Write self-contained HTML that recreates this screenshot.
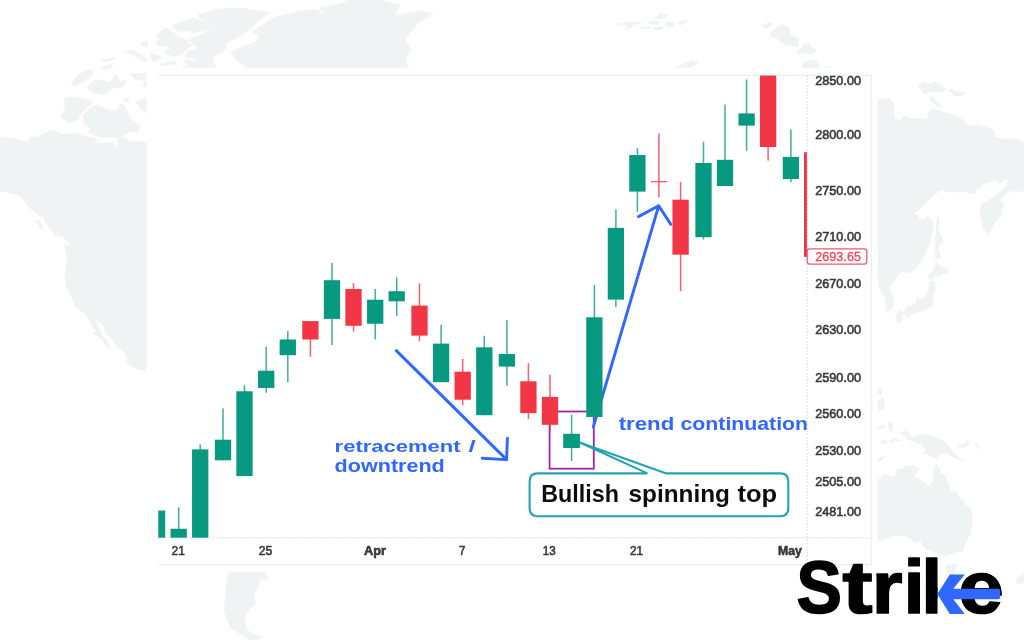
<!DOCTYPE html>
<html lang="en">
<head>
<meta charset="utf-8">
<title>Bullish spinning top</title>
<style>
html,body{margin:0;padding:0;background:#fff;}
body{width:1024px;height:640px;overflow:hidden;font-family:"Liberation Sans",sans-serif;}
svg{display:block;}
.ax text{font-family:"Liberation Sans",sans-serif;font-size:13.6px;fill:#36373c;stroke:#36373c;stroke-width:0.6px;}
.note{font-family:"Liberation Sans",sans-serif;font-weight:bold;fill:#2f67ff;}
.call{font-family:"Liberation Sans",sans-serif;font-weight:bold;fill:#0c0c0c;}
.logo{font-family:"Liberation Sans",sans-serif;font-weight:bold;fill:#000;stroke:#000;stroke-linejoin:round;}
</style>
</head>
<body>
<svg width="1024" height="640" viewBox="0 0 1024 640">
<rect width="1024" height="640" fill="#ffffff"/>
<g fill="#eff3f4" stroke="#eff3f4" stroke-width="0.7" stroke-linejoin="round">
<!-- North America mainland -->
<path d="M0 137.8L15.6 138.6L26.5 142L31 137L37.5 137L51.5 130.2L54.7 130.4L61 134.7L75 133L87.5 137L97 139.4L93.8 143.3L112.5 142.5L118.8 150.3L117 139.4L123.4 137L129.7 141L147 142.5V371.2L138.4 369.2L130.8 366.2L127.1 361.7V357.2L124.8 352.7L115.8 344.4L111.3 337.7L105.3 333.2L103.8 325.6L95.5 319.6L97.8 325.6L100.8 333.2L105.3 339.2L109.8 345.9L109 348.9L105.3 345.2L102.3 339.2L93.2 333.2L96.3 331.6L91.7 325.6L87.2 315.9L81.2 310.6L75.2 307.6L72.2 297L66.2 286.5L64.7 276L66.9 264.2V253.7L63.9 244.7L70.7 245.4L64.7 237.9L55.6 235.6L51.1 229.6L45.1 222.1L42.9 216.1H39.1L36.1 212.3L30 208.6L25.6 202.6L19.6 195.8L7.5 192L0 191.3Z"/>
<path d="M36.1 219.9L39.9 220.6L42.9 228.9L39.1 226.6Z"/>
<!-- Arctic islands -->
<path d="M64 98.6L73.4 97L84.4 98.6L93.8 102.5L87.5 107.2L81.3 112.7L78 119.7L68.8 122.8L61 117.3L65.6 107.2Z"/>
<path d="M82.8 116.6L89 108.8L96.9 104.8L106.3 109.5L115.6 111L120.3 104L125 105.6L129.7 118L140.6 126.7L137.5 131.4L128 132.2L120.3 137.6L100 136.9L87.5 132.2L90.6 128.3L84.4 123.6Z"/>
<path d="M71 83.8L78 75L89 69.7L93.8 71.3L89 79L78 84.5L73.4 86Z"/>
<path d="M87.5 86.9L93.8 80.6L103 79.8L109.4 83L115.6 74.4L120.3 81.4L126.6 80.6L123.4 86.9L112.5 88.4L103 94.7L95.3 93L89 90Z"/>
<path d="M101.6 67.3L112.5 63.4L111.7 67.3L106.3 69.7L102.3 69Z"/>
<path d="M101.6 60.3L114 57.2V59.5L103 62Z"/>
<path d="M125 51.7L132.8 49.4L143.8 57.2L147.6 61L140.6 59.5L132.8 54.8Z"/>
<path d="M140 42.9L146.8 41.4L148.3 46.6L143 45.9Z"/>
<path d="M129.7 74.4L134.4 73.6H147V86.9L143 86L145.3 80.6L136 79.8Z"/>
<path d="M136 102.5L147 97V113.4L140.6 108.8Z"/>
<path d="M123.4 98.6H128L129 102.5L125 101.7Z"/>
<path d="M149.8 52.6L161.8 57.2L155 61.7L152 60.2Z"/>
<path d="M140 54.1L147.5 60.2L144.5 61.7L140 58.7Z"/>
<path d="M159.6 63.9L176.1 61.4V63.9L164.1 65.4Z"/>
<!-- Devon -->
<path d="M155.8 36.1L164.1 27.8L169.3 29.3L177.6 36.1L186.6 40.6L191.9 45.9L186.6 48.9L182.1 54.9L171.6 56.4L164.1 51.1L172.3 47.4L158 45.1L155 41.4L161.8 39.4Z"/>
<!-- Axel Heiberg -->
<path d="M172.3 24.8L192.6 18L200.2 20.3L207.7 22.6L213.7 27.1L203.2 30.8L192.6 33.1L189.6 30.8L179.1 31.6L173.1 27.8Z"/>
<!-- Ellesmere -->
<path d="M198.7 14.3L218.2 9L242.3 8.3L269.3 12.8L260.3 19.6L248.3 20.3L258.8 21L248.3 30L239.3 36.1L225.7 43.6L226.5 48.1L221.2 53.4L214.4 55.6L212.9 63.2L216.7 67.5H182.1L186.6 64.7L183.6 60.2L192.6 60.9L198.7 59.4L191.1 57.9L185.1 56.4L188.1 51.1L198.7 48.1L188.1 39.9L200.2 35.3L215.2 27.1L206.2 21L198.7 17.3Z"/>
<!-- Greenland -->
<path d="M231 51.9L239.3 48.1L255.8 42.1L258.8 36.1L252 31.6L275.4 16.5L294 12.8L300 11L316 9.4L325 15.6L320 8L344 3L347 0H378L400 4.7L395 15.6L422 11L433 14L419 22L405 39L411 50L405 58L408 67.5H246.8L236.3 60.2Z"/>
<!-- Svalbard etc -->
<path d="M615.6 24.2L631.3 21.9L642.2 23.1L632.8 25L631.3 28.1L625 28.9L628 25.8Z"/>
<path d="M639 27.3L648.4 26.6L649.2 28.1L640.6 28.4Z"/>
<path d="M648.4 21.9L659.4 21.1L657.8 24.2H651.6Z"/>
<path d="M654.7 18L659.4 14H668L665.6 17.2L657.8 19.5Z"/>
<path d="M653.1 27.8L662.5 26.6L663.3 28.9L656.3 30Z"/>
<path d="M664.8 23.4L671.9 21.1L675 24.2L670.3 27.8L665.6 25.8Z"/>
<path d="M677.3 23.4L686 18.8L687.8 21.9L679.7 25Z"/>
<path d="M675.8 68L692.2 60.2L697.7 62.5L693.8 66.4L687.5 68Z"/>
<path d="M760.3 25L769.7 22.7L773.6 24.2L765 28.9Z"/>
<path d="M769.7 33.6L782.2 24.2L790 28.9V34.4L798.6 39L797.8 46.1L786.9 45.3L780.6 42.2L777.5 38.3L769.7 36.7Z"/>
<path d="M797 53.1L804 44.5L808.8 43.8L816.6 50.8L810.3 53.9L802.5 53.1L799.4 54.7Z"/>
<path d="M802.5 68L804 62.5L808.8 60.2L815 60.9L819.7 65.6L818.1 68Z"/>
<path d="M824.4 67.2H832.2V68H824.4Z"/>
<!-- Asia -->
<path d="M877.7 99.4L889.6 98.8L894.8 105.1L893.3 112.6L894.8 118.7L899.3 121.4L904.6 115.6L909.1 118.4L915.1 117.9L924.1 119.4L929.4 117.9L927.9 112.6L931.7 109.3L940.7 111.1L954.2 115.3L963.2 120.2L967.8 126.2L978.3 125.4L990.3 128.4L994.1 131.4V136.7L1002.4 139L1018.9 139.7L1024 143.5V190.6L1016 191.9L1013.5 190L1006 193.8L999.8 200L1003.5 203.8L1001 215L994.8 222.5L991 230L988 233.4L983.5 230L982.3 225L979.8 212.5L981 204.4L993.5 197.5L1006 186.3L1009.8 179.4H1004.8L998.5 184.4L997.3 180L983.5 183.8L976 190V193.8L968.5 192.5L959.8 190.6L954.8 192.5L939.8 190L928.8 200L921.3 207.5L913.1 213.8L917.5 215.6L919.4 219.4L923.8 220.6L926.9 216.3L932.5 221.3L933.1 226.3L931.3 237.5L927.5 248.8L922.5 258.8L916.3 267.5L908.8 273.1L905 272.5L903.1 271L896.9 276.3L893.8 282.5L888.8 288.1L893.1 297.5L893.8 303.8L891.3 310L886.3 311.3L885.6 302.5L884.4 300L886.3 296.3L881.9 293.8L880.6 288.1L877.7 286.9Z"/>
<path d="M918.1 86.3L922.6 81.4L930.2 84.1L934.7 81.8L946 88.6L942.2 92.3H937.7L933.2 90.8L924.1 93.8Z"/>
<path d="M948.2 90.1L952 89.3L957.2 91.9L965.5 92.3L963.2 95.3L955.7 96.1Z"/>
<path d="M929.4 97.6L931.7 96.5L940.7 105.1L939.2 106.9L931.7 102.1Z"/>
<!-- Sakhalin -->
<path d="M937.5 216.3L939.4 220V225L938.1 230L941.3 236.3L943.8 243.8L940 243.1L938.1 248.8L940.6 257.5L935 258.1L935.3 245L936 231.3L936.9 222.5Z"/>
<!-- Japan -->
<path d="M936.3 262.5L940 266.9L945.6 268.1L948.1 270L947.5 272.5L942.5 273.8L939.4 276.3L935 275.6L931.3 279.4L928.8 278.8L928.5 275L931.9 271.9L934.4 270Z"/>
<path d="M933.8 280.6L935.6 288.8L932.5 297.5L933.1 306.3L928.8 308.1L917.5 312.5L911.3 314.4L906.3 317.5L903.8 312.5L907.5 306.3L915.6 304.4L918.1 297.5L920 300L925 297.5L928.8 288.8L929.4 282.5Z"/>
<path d="M895.6 315L900 310.6L903.1 312.5L902.5 318.8L899.4 323.1L896.9 322.5Z"/>
<!-- Philippines / Indonesia -->
<path d="M878.3 388L882 388.8L881.3 394.8L878.3 394Z"/>
<path d="M877.7 400.8L882.8 397.8L885 406L881.3 410.6L877.7 410Z"/>
<path d="M888 422.6L891.8 421.1L892.3 430.9L889.6 431.7Z"/>
<path d="M877.7 427.9L885 424.1L884.3 427.2L879 429.4Z"/>
<path d="M880.5 440.7L885 439.5L887.3 442.2L882 443.7Z"/>
<path d="M889.6 440.7L895.6 438L901.6 441.4L895.6 440.4L890.3 443.4Z"/>
<path d="M877.7 458.7L881.3 456.8L886.5 456.5L882 459.5L877.7 462Z"/>
<!-- New Guinea -->
<path d="M900 432.4L906 430.9L909.9 433.2L910.6 436.9L915.1 437.7L921.1 433.9L933.2 436.2L943.7 440.7L949.7 448.2L957.2 455.7L963.2 461L954.2 458L946.7 452.7L940.7 453.5L936.2 458L930.2 456.5L928.7 453.5L922.6 454.2L925.6 449.7L921.1 444.4L913.6 441.4L906.8 439.2L907.6 436.2L902.3 434.4Z"/>
<path d="M956.5 445.2L963.2 444.4L967.8 440.4L970 443L964.8 447L958.7 448.2Z"/>
<path d="M974.5 443.2L976.8 443.7L980.5 448.2L979 448.5Z"/>
<!-- Australia -->
<path d="M877.7 479.8L885 474.5L894.8 477.6L897 469.3L904.6 468.5L905.3 465.8L915.1 466.3L918.9 468.5L914.4 476.8L922.6 481.3L929.4 486.6L933.9 479.8V470L936.5 464L940.7 473L946 476L946.7 482L949 483.6L949.7 490.3L957.2 494.1L960.2 499.4L964 500.1L964.8 504.6L970.8 508.4L973 519.7L970 534.7L964.8 543.7L963.3 551L957.4 551.4L945.7 556L936 553.8L929 549L927.2 549.8L921.1 543.7L922.6 538.5L915.9 543L906 536.2L894 535.5L888 537.7L877.7 541.5Z"/>
<path d="M945.7 565.5L957.4 564.3L952.7 574.8L948 573.7Z"/>
<path d="M1016 579.5L1024 572.5V582L1018 584Z"/>
<!-- South America -->
<path d="M229.2 572H265.1L267.9 578.8H260.2L258.1 586.6L253.8 594.3L256 603.4L248.9 610.5L244 616.8L246.1 628.8L253.1 634.4L263.7 637.2L254.5 640H248.9L239 633L230.6 627.4L227.1 620.3L224.3 611.9L225.7 592.2L227.8 578.1Z"/>

</g>
<!-- chart panel -->
<rect x="146.5" y="67.9" width="731.1" height="504.1" fill="#ffffff"/>
<g stroke="#edeff3" stroke-width="1.2" fill="none">
<path d="M158 75.3H871.4V564.6H158"/>
<path d="M158 537.8H871.4" stroke="#dcdee2" stroke-dasharray="1.6 1.6"/>
<path d="M807.3 75.3V564.6" stroke="#dcdee2" stroke-dasharray="1.6 1.6"/>
</g>
<!-- purple highlight box -->
<rect x="549.6" y="411.5" width="44.2" height="57.2" fill="none" stroke="#9c27b0" stroke-width="1.8"/>
<!-- arrows -->
<g fill="none" stroke="#2f67ff" stroke-width="2.9" stroke-linecap="round" stroke-linejoin="round">
<path d="M396.3 350.6L506.6 459.6M482.3 458.2L506.6 459.6L507.4 438.3"/>
<path d="M593.3 427L658.7 205.8M638.5 216.6L658.7 205.8L670.8 224.4"/>
</g>
<!-- candles -->
<g shape-rendering="auto">
<rect x="158.3" y="510.5" width="6.9" height="27.2" fill="#089981"/>
<rect x="177.95" y="507.3" width="1.5" height="30.4" fill="#089981" opacity="0.78"/>
<rect x="170.55" y="528.75" width="16.3" height="8.95" fill="#089981"/>
<rect x="199.45" y="444.4" width="1.5" height="93.3" fill="#089981" opacity="0.78"/>
<rect x="192.05" y="449.4" width="16.3" height="88.3" fill="#089981"/>
<rect x="222.25" y="408.4" width="1.5" height="51.9" fill="#089981" opacity="0.78"/>
<rect x="214.85" y="439.7" width="16.3" height="20.6" fill="#089981"/>
<rect x="243.75" y="385" width="1.5" height="91.1" fill="#089981" opacity="0.78"/>
<rect x="236.35" y="391.25" width="16.3" height="84.85" fill="#089981"/>
<rect x="265.45" y="346.6" width="1.5" height="46.1" fill="#089981" opacity="0.78"/>
<rect x="258.05" y="370.7" width="16.3" height="17.3" fill="#089981"/>
<rect x="287.05" y="330.9" width="1.5" height="51.3" fill="#089981" opacity="0.78"/>
<rect x="279.65" y="339.5" width="16.3" height="15.7" fill="#089981"/>
<rect x="309.65" y="321.1" width="1.5" height="35.6" fill="#f23645" opacity="0.78"/>
<rect x="302.25" y="321.1" width="16.3" height="18.4" fill="#f23645"/>
<rect x="331.25" y="262.8" width="1.5" height="82.2" fill="#089981" opacity="0.78"/>
<rect x="323.85" y="280.2" width="16.3" height="38.7" fill="#089981"/>
<rect x="352.75" y="283.1" width="1.5" height="48.5" fill="#f23645" opacity="0.78"/>
<rect x="345.35" y="289" width="16.3" height="36.8" fill="#f23645"/>
<rect x="374.45" y="289" width="1.5" height="50.4" fill="#089981" opacity="0.78"/>
<rect x="367.05" y="299.7" width="16.3" height="24.05" fill="#089981"/>
<rect x="395.95" y="277.4" width="1.5" height="38.6" fill="#089981" opacity="0.78"/>
<rect x="388.55" y="291.2" width="16.3" height="10.1" fill="#089981"/>
<rect x="418.75" y="283.4" width="1.5" height="57.85" fill="#f23645" opacity="0.78"/>
<rect x="411.35" y="305.6" width="16.3" height="30" fill="#f23645"/>
<rect x="440.35" y="324.8" width="1.5" height="57.4" fill="#089981" opacity="0.78"/>
<rect x="432.95" y="343.6" width="16.3" height="38.6" fill="#089981"/>
<rect x="461.95" y="359" width="1.5" height="46.3" fill="#f23645" opacity="0.78"/>
<rect x="454.55" y="371.7" width="16.3" height="28" fill="#f23645"/>
<rect x="483.55" y="335.8" width="1.5" height="79.4" fill="#089981" opacity="0.78"/>
<rect x="476.15" y="347.3" width="16.3" height="67.9" fill="#089981"/>
<rect x="506.15" y="320.2" width="1.5" height="65.6" fill="#089981" opacity="0.78"/>
<rect x="498.75" y="354" width="16.3" height="12.6" fill="#089981"/>
<rect x="527.65" y="363.1" width="1.5" height="55.9" fill="#f23645" opacity="0.78"/>
<rect x="520.25" y="381.3" width="16.3" height="31.8" fill="#f23645"/>
<rect x="549.25" y="374.7" width="1.5" height="56.9" fill="#f23645" opacity="0.78"/>
<rect x="541.85" y="396.9" width="16.3" height="27.9" fill="#f23645"/>
<rect x="570.85" y="414.7" width="1.5" height="46.3" fill="#089981" opacity="0.78"/>
<rect x="563.45" y="433.9" width="16.3" height="14.1" fill="#089981"/>
<rect x="593.65" y="285" width="1.5" height="132" fill="#089981" opacity="0.78"/>
<rect x="586.25" y="317.3" width="16.3" height="99.7" fill="#089981"/>
<rect x="615.15" y="209.5" width="1.5" height="97.7" fill="#089981" opacity="0.78"/>
<rect x="607.75" y="227.9" width="16.3" height="71.7" fill="#089981"/>
<rect x="636.65" y="148.1" width="1.5" height="63.8" fill="#089981" opacity="0.78"/>
<rect x="629.25" y="155" width="16.3" height="36.6" fill="#089981"/>
<rect x="679.85" y="181.9" width="1.5" height="109.2" fill="#f23645" opacity="0.78"/>
<rect x="672.45" y="199.7" width="16.3" height="55" fill="#f23645"/>
<rect x="702.75" y="141.6" width="1.5" height="97.9" fill="#089981" opacity="0.78"/>
<rect x="695.35" y="163" width="16.3" height="74.2" fill="#089981"/>
<rect x="724.25" y="104.5" width="1.5" height="81.6" fill="#089981" opacity="0.78"/>
<rect x="716.85" y="159.8" width="16.3" height="26.3" fill="#089981"/>
<rect x="745.85" y="79.5" width="1.5" height="71.3" fill="#089981" opacity="0.78"/>
<rect x="738.45" y="113.4" width="16.3" height="12.2" fill="#089981"/>
<rect x="767.35" y="75.6" width="1.5" height="85" fill="#f23645" opacity="0.78"/>
<rect x="759.95" y="75.6" width="16.3" height="71.4" fill="#f23645"/>
<rect x="790.15" y="129.5" width="1.5" height="52.7" fill="#089981" opacity="0.78"/>
<rect x="782.75" y="156.9" width="16.3" height="22.1" fill="#089981"/>
<rect x="658.15" y="133.5" width="1.5" height="64" fill="#f23645" opacity="0.78"/>
<rect x="651" y="181" width="16.3" height="1.3" fill="#f23645" opacity="0.8"/>
<rect x="804" y="152.2" width="2.9" height="104.7" fill="#f23645"/>
</g>
<!-- callout -->
<g fill="none" stroke="#25a3b3" stroke-width="2.1" stroke-linejoin="round">
<path d="M647.5 473.4H537.5Q529.6 473.4 529.6 481.4V508.3Q529.6 516.3 537.6 516.3H780.3Q788.3 516.3 788.3 508.3V481.4Q788.3 473.4 780.3 473.4H666.4L579.8 442.5L647.5 473.4" fill="#ffffff"/>
</g>
<rect x="563.45" y="433.9" width="16.3" height="14.1" fill="#089981"/>
<text class="call" y="501.5" font-size="23.2"><tspan x="541.3" textLength="77.6" lengthAdjust="spacingAndGlyphs">Bullish</tspan><tspan x="618.9" textLength="9.6" lengthAdjust="spacingAndGlyphs"> </tspan><tspan x="628.5" textLength="101.4" lengthAdjust="spacingAndGlyphs">spinning</tspan><tspan x="729.9" textLength="7.6" lengthAdjust="spacingAndGlyphs"> </tspan><tspan x="737.5" textLength="39.6" lengthAdjust="spacingAndGlyphs">top</tspan></text>
<!-- notes -->
<text class="note" y="452.3" font-size="17.4"><tspan x="334.6" textLength="126" lengthAdjust="spacingAndGlyphs">retracement</tspan><tspan x="461.4" textLength="14.4" lengthAdjust="spacingAndGlyphs"> /</tspan></text>
<text class="note" x="334.6" y="471.6" font-size="17.8" textLength="110.2" lengthAdjust="spacingAndGlyphs">downtrend</text>
<svg x="600" y="400" width="206.8" height="40" viewBox="600 400 206.8 40" overflow="hidden">
<text class="note" y="429.9" font-size="18.5"><tspan x="618.7" textLength="55.6" lengthAdjust="spacingAndGlyphs">trend</tspan><tspan x="674.3" textLength="6.2" lengthAdjust="spacingAndGlyphs"> </tspan><tspan x="680.5" textLength="127.6" lengthAdjust="spacingAndGlyphs">continuation</tspan></text>
</svg>
<!-- axes -->
<g class="ax">
<text x="815.2" y="84.9" textLength="45.8" lengthAdjust="spacingAndGlyphs">2850.00</text>
<text x="815.2" y="139.4" textLength="45.8" lengthAdjust="spacingAndGlyphs">2800.00</text>
<text x="815.2" y="195.4" textLength="45.8" lengthAdjust="spacingAndGlyphs">2750.00</text>
<text x="815.2" y="241.3" textLength="45.8" lengthAdjust="spacingAndGlyphs">2710.00</text>
<text x="815.2" y="288" textLength="45.8" lengthAdjust="spacingAndGlyphs">2670.00</text>
<text x="815.2" y="334.3" textLength="45.8" lengthAdjust="spacingAndGlyphs">2630.00</text>
<text x="815.2" y="382.3" textLength="45.8" lengthAdjust="spacingAndGlyphs">2590.00</text>
<text x="815.2" y="418.3" textLength="45.8" lengthAdjust="spacingAndGlyphs">2560.00</text>
<text x="815.2" y="455.3" textLength="45.8" lengthAdjust="spacingAndGlyphs">2530.00</text>
<text x="815.2" y="486" textLength="45.8" lengthAdjust="spacingAndGlyphs">2505.00</text>
<text x="815.2" y="515.7" textLength="45.8" lengthAdjust="spacingAndGlyphs">2481.00</text>
<text x="178.2" y="554.8" text-anchor="middle" textLength="13.2" lengthAdjust="spacingAndGlyphs">21</text>
<text x="265.6" y="554.8" text-anchor="middle" textLength="13.6" lengthAdjust="spacingAndGlyphs">25</text>
<text x="375.1" y="554.8" text-anchor="middle" textLength="22" lengthAdjust="spacingAndGlyphs" font-weight="bold" stroke-width="0">Apr</text>
<text x="462.3" y="554.8" text-anchor="middle" textLength="6.4" lengthAdjust="spacingAndGlyphs">7</text>
<text x="549.3" y="554.8" text-anchor="middle" textLength="13" lengthAdjust="spacingAndGlyphs">13</text>
<text x="636.5" y="554.8" text-anchor="middle" textLength="13.2" lengthAdjust="spacingAndGlyphs">21</text>
<text x="789.9" y="554.8" text-anchor="middle" textLength="23.8" lengthAdjust="spacingAndGlyphs" font-weight="bold" stroke-width="0">May</text>
</g>
<rect x="807.2" y="248.9" width="59.6" height="15.2" rx="2.5" fill="#ffffff" stroke="#f4586a" stroke-width="1.3"/>
<text x="815.2" y="261" font-family="'Liberation Sans',sans-serif" font-size="13.6" fill="#f34257" stroke="#f34257" stroke-width="0.3" textLength="45.8" lengthAdjust="spacingAndGlyphs">2693.65</text>
<!-- logo -->
<defs><clipPath id="lc"><rect x="780" y="540" width="157.7" height="90"/><ellipse cx="980" cy="594" rx="22" ry="22.5"/></clipPath></defs>
<g clip-path="url(#lc)">
<text class="logo" y="612.6" font-size="73.5" stroke-width="1.7"><tspan x="796.4" textLength="45.4" lengthAdjust="spacingAndGlyphs">S</tspan><tspan x="842.5" textLength="30" lengthAdjust="spacingAndGlyphs">t</tspan><tspan x="872.1" textLength="30.4" lengthAdjust="spacingAndGlyphs">r</tspan><tspan x="903.7" font-size="76" textLength="20.7" lengthAdjust="spacingAndGlyphs">i</tspan><tspan x="921.5" font-size="76" textLength="41.4" lengthAdjust="spacingAndGlyphs">k</tspan><tspan x="958.5" font-size="73.5" textLength="45.4" lengthAdjust="spacingAndGlyphs">e</tspan></text>
</g>
<g fill="#2f67ff">
<path d="M937.3 593.9L949.8 574.4H964.8L953.3 588.7H998.2Q1000.2 588.7 1000.2 590.7V597.2Q1000.2 599.2 998.2 599.2H953.3L964.8 613.9H949.8Z"/>
</g>
</svg>
</body>
</html>
